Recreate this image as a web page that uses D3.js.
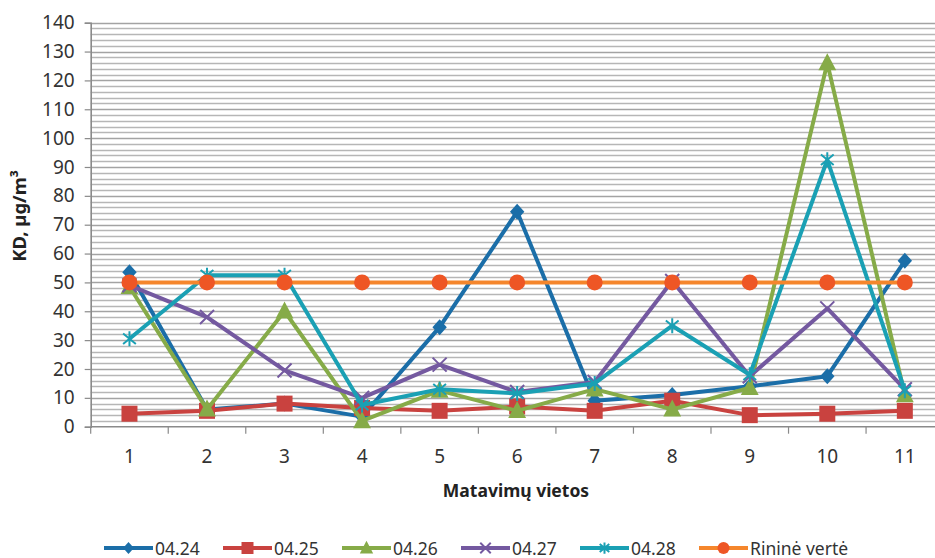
<!DOCTYPE html>
<html>
<head>
<meta charset="utf-8">
<script src="https://cdn.jsdelivr.net/npm/d3@7/dist/d3.min.js"></script>
<style>
  html, body { margin: 0; padding: 0; background: #fff; }
  svg { display: block; }
  text { font-family: "Noto Sans", "DejaVu Sans", sans-serif; }
</style>
</head>
<body>
<svg id="chart" width="935" height="558"></svg>
<script>
// Measurement sites
const categories = ["1", "2", "3", "4", "5", "6", "7", "8", "9", "10", "11"];

// Concentrations by date, µg/m³
const s0424 = [53.5, 6, 8, 3.5, 34.5, 74.5, 9, 11, 14, 17.5, 57.5];
const s0425 = [4.5, 5.5, 8, 6.5, 5.5, 7, 5.5, 9, 4, 4.5, 5.5];
const s0426 = [48.5, 6, 40, 2, 12.5, 5.5, 13, 6, 13.5, 126, 11];
const s0427 = [49, 38, 19.5, 10, 21.5, 12, 15.5, 50.5, 17.5, 41, 13];
const s0428 = [30.5, 52.5, 52.5, 7.5, 13, 11.5, 15, 35, 18, 92.5, 12.5];
const rinine = [50, 50, 50, 50, 50, 50, 50, 50, 50, 50, 50];

const seriesNames = ["04.24", "04.25", "04.26", "04.27", "04.28", "Rininė vertė"];
const yTicks = [0, 10, 20, 30, 40, 50, 60, 70, 80, 90, 100, 110, 120, 130, 140];

const seriesList = [
  { name: seriesNames[0], values: s0424, color: "#1b6ea8", marker: "diamond" },
  { name: seriesNames[1], values: s0425, color: "#c9423f", marker: "square" },
  { name: seriesNames[2], values: s0426, color: "#86ab48", marker: "triangle" },
  { name: seriesNames[3], values: s0427, color: "#7459a0", marker: "x" },
  { name: seriesNames[4], values: s0428, color: "#1aa0b4", marker: "star" },
  { name: seriesNames[5], values: rinine, color: "#f5862c", marker: "circle", markerFill: "#ee5625" }
];

const svg = d3.select("#chart");
const plotLeft = 90.7, plotRight = 943.6, plotTop = 22.7, plotBottom = 426.7;

const x = d3.scaleBand().domain(categories).range([plotLeft, plotRight]).padding(0);
const y = d3.scaleLinear().domain([0, 140]).range([plotBottom, plotTop]);
const cx = c => x(c) + x.bandwidth() / 2;

// Gridlines every 2 units
const grid = svg.append("g");
d3.range(2, 141, 2).forEach(v => {
  grid.append("line")
    .attr("x1", plotLeft).attr("x2", plotRight)
    .attr("y1", Math.round(y(v)) + 0.5).attr("y2", Math.round(y(v)) + 0.5)
    .attr("stroke", v % 10 === 0 ? "#a3a3a3" : "#b6b6b6")
    .attr("stroke-width", 1.4);
});

// Y axis
const yAxis = d3.axisLeft(y).tickValues(yTicks).tickSize(6).tickPadding(10);
const gy = svg.append("g").attr("transform", `translate(${plotLeft},0)`).call(yAxis);
gy.select(".domain").attr("stroke", "#8a8a8a").attr("stroke-width", 1.6);
gy.selectAll(".tick line").attr("stroke", "#8a8a8a").attr("stroke-width", 1.2);
gy.selectAll(".tick text").attr("font-size", 19).attr("fill", "#333")
  .attr("font-family", "'Noto Sans', sans-serif");

// X axis, ticks at category boundaries
const gx = svg.append("g").attr("transform", `translate(0,${plotBottom})`);
gx.append("line").attr("x1", plotLeft).attr("x2", plotRight).attr("y1", 0).attr("y2", 0)
  .attr("stroke", "#8a8a8a").attr("stroke-width", 1.6);
categories.forEach((c, i) => {
  gx.append("line").attr("x1", x(c)).attr("x2", x(c)).attr("y1", 0).attr("y2", 7)
    .attr("stroke", "#8a8a8a").attr("stroke-width", 1.2);
  gx.append("text").attr("x", cx(c)).attr("y", 36).attr("text-anchor", "middle")
    .attr("font-size", 19).attr("fill", "#333").text(c);
});

// Axis titles
svg.append("text")
  .attr("transform", `translate(26,216) rotate(-90)`)
  .attr("text-anchor", "middle").attr("font-size", 18.5).attr("font-weight", "bold")
  .attr("fill", "#222").text("KD, µg/m³");
svg.append("text")
  .attr("x", 516).attr("y", 497).attr("text-anchor", "middle")
  .attr("font-size", 17.5).attr("font-weight", "bold").attr("fill", "#222")
  .text("Matavimų vietos");

// Marker shapes
function markerPath(type, r) {
  switch (type) {
    case "diamond": return `M0,${-r}L${r * 0.9},0L0,${r}L${-r * 0.9},0Z`;
    case "square": return `M${-r},${-r}H${r}V${r}H${-r}Z`;
    case "triangle": return `M0,${-r * 1.15}L${r * 1.05},${r * 0.85}L${-r * 1.05},${r * 0.85}Z`;
    case "x": return `M${-r},${-r}L${r},${r}M${r},${-r}L${-r},${r}`;
    case "star": return `M0,${-r}V${r}M${-r * 0.85},${-r * 0.7}L${r * 0.85},${r * 0.7}M${r * 0.85},${-r * 0.7}L${-r * 0.85},${r * 0.7}`;
    case "circle": return d3.arc()({ innerRadius: 0, outerRadius: r, startAngle: 0, endAngle: 2 * Math.PI });
  }
}
const markerSize = { diamond: 8, square: 8, triangle: 8.5, x: 7, star: 7.5, circle: 8 };
const isStroke = t => t === "x" || t === "star";

function drawMarker(g, s, px, py, r) {
  const p = g.append("path").attr("transform", `translate(${px},${py})`)
    .attr("d", markerPath(s.marker, r));
  if (isStroke(s.marker)) {
    p.attr("fill", "none").attr("stroke", s.color).attr("stroke-width", 2);
  } else {
    p.attr("fill", s.markerFill || s.color).attr("stroke", "none");
  }
}

// Series
const line = d3.line().x((d, i) => cx(categories[i])).y(d => y(d));
seriesList.forEach(s => {
  const g = svg.append("g");
  g.append("path").datum(s.values).attr("d", line)
    .attr("fill", "none").attr("stroke", s.color).attr("stroke-width", 4)
    .attr("stroke-linejoin", "round");
  s.values.forEach((v, i) => drawMarker(g, s, cx(categories[i]), y(v), markerSize[s.marker]));
});

// Legend
const legend = svg.append("g");
seriesList.forEach((s, i) => {
  const lx = 104 + i * 119, ly = 548;
  legend.append("line").attr("x1", lx).attr("x2", lx + 49).attr("y1", ly).attr("y2", ly)
    .attr("stroke", s.color).attr("stroke-width", 4);
  drawMarker(legend, s, lx + 24.5, ly, markerSize[s.marker] * 0.75);
  legend.append("text").attr("x", lx + 51).attr("y", ly + 6.5)
    .attr("font-size", 17.5).attr("fill", "#333").text(s.name);
});
</script>
</body>
</html>
